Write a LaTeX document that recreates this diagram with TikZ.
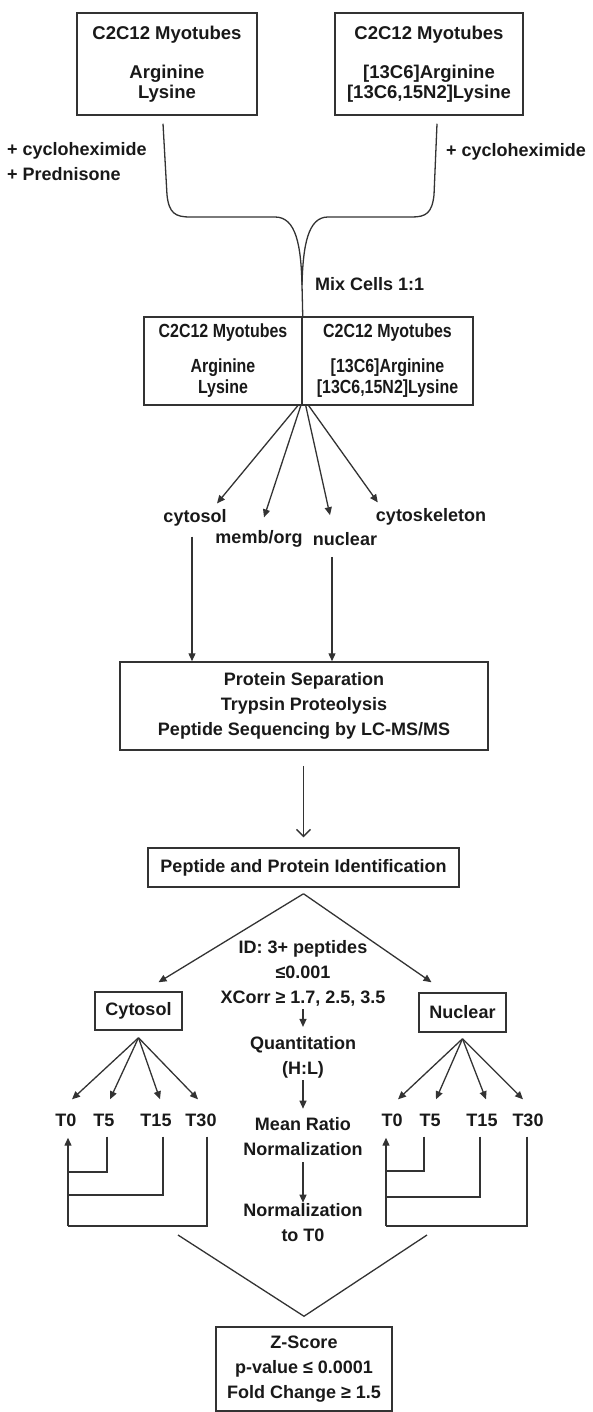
\documentclass[tikz,border=0pt]{standalone}
\usepackage{fontspec}
\setmainfont{Liberation Sans}
\newfontfamily\narrowsf[FakeStretch=0.84]{Liberation Sans}
\usetikzlibrary{arrows.meta,positioning,calc}

\begin{document}
\begin{tikzpicture}[x=1pt,y=-1pt,
  every node/.style={font=\bfseries\fontsize{18}{25}\selectfont,inner sep=0pt,align=center,text=black!90},
  box/.style={draw=black!80,line width=1.5pt},
  cellfont/.style={font=\bfseries\fontsize{18.5}{20}\selectfont},
  mixfont/.style={font=\narrowsf\bfseries\fontsize{19}{21}\selectfont},
  tlab/.style={text height=13pt,text depth=0pt},
  arr/.style={draw=black!80,line width=1.3pt,-{Triangle[length=8pt,width=7pt]}},
  ln/.style={draw=black!80,line width=1.3pt}]
\useasboundingbox (0,0) rectangle (593,1412);

% labelled cultures
\node[box,cellfont,minimum width=180pt,minimum height=102pt] (lightbox) at (167,64)
  {C2C12 Myotubes\\[19pt]Arginine\\Lysine};
\node[box,cellfont,minimum width=188pt,minimum height=102pt] (heavybox) at (429,64)
  {C2C12 Myotubes\\[19pt]{[13C6]Arginine}\\{[13C6,15N2]Lysine}};
\node[anchor=west,align=left] (treatlight) at (7,162) {+ cycloheximide\\+ Prednisone};
\node[anchor=west] (treatheavy) at (446,152) {+ cycloheximide};
\node[anchor=west] (mixlabel) at (315,284) {Mix Cells 1:1};

% mixed cells
\node[box,mixfont,minimum width=158pt,minimum height=88pt] (mixlight) at (223,361)
  {C2C12 Myotubes\\[14pt]Arginine\\Lysine};
\node[box,mixfont,minimum width=171pt,minimum height=88pt] (mixheavy) at (387.5,361)
  {C2C12 Myotubes\\[14pt]{[13C6]Arginine}\\{[13C6,15N2]Lysine}};

% brace joining the cultures
\draw[ln] ([xshift=-4pt,yshift=-8pt]lightbox.south) -- (167,195)
  .. controls (169,213) and (175,217) .. (190,217) -- (275,217)
  .. controls (296,217) and (301,245) .. (302,285) -- (mixlight.north east);
\draw[ln] ([xshift=8pt,yshift=-8pt]heavybox.south) -- (434,195)
  .. controls (432,213) and (426,217) .. (412,217) -- (328,217)
  .. controls (308,217) and (303,245) .. (302,285);

% fractions
\node (cytosol) at (195,518) {cytosol};
\node (memborg) at (259,539) {memb/org};
\node (nuclear) at (345,539) {nuclear};
\node (cytoskel) at (431,517) {cytoskeleton};
\draw[arr] ([xshift=-5pt]mixlight.south east) -- ([xshift=22pt,yshift=6pt]cytosol.north);
\draw[arr] ([xshift=-2pt]mixlight.south east) -- ([xshift=5pt,yshift=13pt]memborg.north);
\draw[arr] ([xshift=3pt]mixlight.south east) -- ([xshift=-15pt,yshift=17pt]nuclear.north);
\draw[arr] ([xshift=6pt]mixlight.south east) -- ([xshift=2pt,yshift=6pt]cytoskel.north west);

\node[box,minimum width=368pt,minimum height=88pt] (protein) at (304,706)
  {Protein Separation\\Trypsin Proteolysis\\Peptide Sequencing by LC-MS/MS};
\draw[arr] ([xshift=-3pt,yshift=-10pt]cytosol.south) -- ([xshift=-3pt]cytosol.south |- protein.north);
\draw[arr] ([xshift=-13pt,yshift=-11pt]nuclear.south) -- ([xshift=-13pt]nuclear.south |- protein.north);

\node[box,minimum width=311pt,minimum height=39pt] (idbox) at (303.5,867.5)
  {Peptide and Protein Identification};
\draw[draw=black!80,line width=1.3pt,-{Straight Barb[length=7pt,width=14pt]}]
  ($(protein.south -| idbox.north)+(0,15)$) -- ([yshift=10pt]idbox.north);

% identification and quantitation
\node[box,minimum width=87pt,minimum height=38pt] (cytobox) at (138.5,1011) {Cytosol};
\node[box,minimum width=87pt,minimum height=39pt] (nucbox) at (462.5,1012.5) {Nuclear};
\draw[arr] ([yshift=-6pt]idbox.south) -- ([xshift=20pt,yshift=9pt]cytobox.north);
\draw[arr] ([yshift=-6pt]idbox.south) -- ([xshift=-31pt,yshift=10pt]nucbox.north);

\node (idcrit) at (303,973) {ID: 3+ peptides\\≤0.001\\XCorr ≥ 1.7, 2.5, 3.5};
\node (quant) at (303,1057) {Quantitation\\(H:L)};
\node (meanratio) at (303,1137) {Mean Ratio\\Normalization};
\node (normtzero) at (303,1223) {Normalization\\to T0};
\draw[arr] ([yshift=-3pt]idcrit.south) -- ([yshift=9pt]quant.north);
\draw[arr] ([yshift=-2pt]quant.south) -- ([yshift=9pt]meanratio.north);
\draw[arr] ([yshift=-6pt]meanratio.south) -- ([yshift=1pt]normtzero.north);

% time points
\foreach \nm/\x in {T0/66,T5/104,T15/156,T30/201}
  \node[tlab] (c\nm) at (\x,1120) {\nm};
\foreach \nm/\x in {T0/392,T5/430,T15/482,T30/528}
  \node[tlab] (n\nm) at (\x,1120) {\nm};
\foreach \nm/\dx in {T0/6,T5/6,T15/4,T30/-3}
  \draw[arr] ([yshift=-7pt]cytobox.south) -- ([xshift=\dx pt,yshift=14pt]c\nm.north);
\foreach \nm/\dx in {T0/6,T5/6,T15/4,T30/-5}
  \draw[arr] ([yshift=-6pt]nucbox.south) -- ([xshift=\dx pt,yshift=14pt]n\nm.north);

% back to T0
\coordinate (cbus) at (68,1226);
\draw[arr] (cbus) -- ([xshift=2pt,yshift=-11pt]cT0.south);
\draw[ln] ([xshift=3pt,yshift=-10pt]cT5.south) |- ($(cbus)+(0,-54)$);
\draw[ln] ([xshift=7pt,yshift=-10pt]cT15.south) |- ($(cbus)+(0,-31)$);
\draw[ln] ([xshift=6pt,yshift=-10pt]cT30.south) |- (cbus);
\coordinate (nbus) at (386,1226);
\draw[arr] (nbus) -- ([xshift=-6pt,yshift=-11pt]nT0.south);
\draw[ln] ([xshift=-6pt,yshift=-10pt]nT5.south) |- ($(nbus)+(0,-55)$);
\draw[ln] ([xshift=-2pt,yshift=-10pt]nT15.south) |- ($(nbus)+(0,-29)$);
\draw[ln] ([xshift=-1pt,yshift=-10pt]nT30.south) |- (nbus);

% statistics
\node[box,minimum width=176pt,minimum height=84pt] (zbox) at (304,1369)
  {Z-Score\\p-value ≤ 0.0001\\Fold Change ≥ 1.5};
\coordinate (vleft) at (178,1235);
\coordinate (vright) at (427,1235);
\draw[ln] (vleft) -- ([yshift=10pt]zbox.north) -- (vright);
\end{tikzpicture}
\end{document}
